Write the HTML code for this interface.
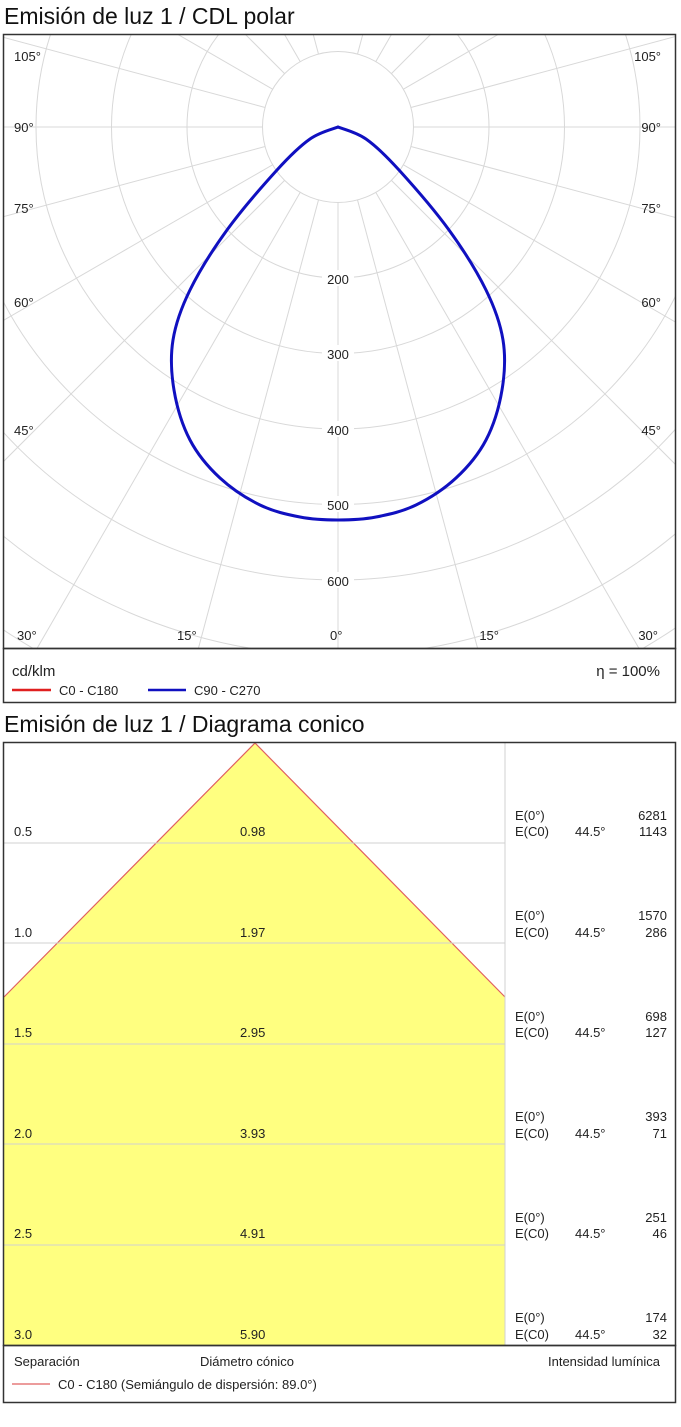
<!DOCTYPE html>
<html><head><meta charset="utf-8"><style>
body{margin:0;background:#fff;width:681px;height:1422px;overflow:hidden;font-family:"Liberation Sans",sans-serif;}
</style></head><body>
<svg width="681" height="1422" xmlns="http://www.w3.org/2000/svg" font-family="Liberation Sans, sans-serif">
<text x="4" y="24" font-size="23" fill="#111">Emisión de luz 1 / CDL polar</text>
<defs><clipPath id="c"><rect x="4" y="35" width="671" height="613"/></clipPath>
<path id="half" fill="none" stroke="#1010c0" stroke-width="3" stroke-linecap="round" d="M338,127 C333.3,129 320.2,131.8 310,139 C299.8,146.2 290.8,154.8 277,170 C263.2,185.2 241.5,210 227,230 C212.5,250 199,271.7 190,290 C181,308.3 175.7,323.3 173,340 C170.3,356.7 171.2,373.3 174,390 C176.8,406.7 182.3,425.3 190,440 C197.7,454.7 208.3,467.2 220,478 C231.7,488.8 246.7,498.5 260,505 C273.3,511.5 287,514.5 300,517 C313,519.5 325.3,520 338,520"/>
</defs>
<g clip-path="url(#c)" stroke="#d8d8d8" stroke-width="1" fill="none">
<circle cx="338" cy="127" r="75.5"/><circle cx="338" cy="127" r="151"/><circle cx="338" cy="127" r="226.5"/>
<circle cx="338" cy="127" r="302"/><circle cx="338" cy="127" r="377.5"/><circle cx="338" cy="127" r="453"/>
<circle cx="338" cy="127" r="528.5"/><circle cx="338" cy="127" r="604"/>
</g>
<g clip-path="url(#c)" stroke="#d8d8d8" stroke-width="1">
<line x1="338" y1="202.5" x2="338" y2="900"/>
<line x1="357.5" y1="199.9" x2="545" y2="900"/><line x1="318.5" y1="199.9" x2="131" y2="900"/>
<line x1="375.8" y1="192.4" x2="738" y2="820"/><line x1="300.2" y1="192.4" x2="-62" y2="820"/>
<line x1="391.4" y1="180.4" x2="900" y2="689"/><line x1="284.6" y1="180.4" x2="-224" y2="689"/>
<line x1="403.4" y1="164.8" x2="1030" y2="527"/><line x1="272.6" y1="164.8" x2="-354" y2="527"/>
<line x1="410.9" y1="146.5" x2="1110" y2="334"/><line x1="265.1" y1="146.5" x2="-434" y2="334"/>
<line x1="413.5" y1="127" x2="1140" y2="127"/><line x1="262.5" y1="127" x2="-464" y2="127"/>
<line x1="410.9" y1="107.5" x2="1110" y2="-80"/><line x1="265.1" y1="107.5" x2="-434" y2="-80"/>
<line x1="403.4" y1="89.2" x2="1030" y2="-273"/><line x1="272.6" y1="89.2" x2="-354" y2="-273"/>
<line x1="391.4" y1="73.6" x2="900" y2="-435"/><line x1="284.6" y1="73.6" x2="-224" y2="-435"/>
<line x1="375.8" y1="61.6" x2="738" y2="-566"/><line x1="300.2" y1="61.6" x2="-62" y2="-566"/>
<line x1="357.5" y1="54.1" x2="545" y2="-646"/><line x1="318.5" y1="54.1" x2="131" y2="-646"/>
</g>
<g font-size="13" fill="#222">
<g fill="#fff"><rect x="322" y="270" width="32" height="16"/><rect x="322" y="345" width="32" height="16"/><rect x="322" y="421" width="32" height="16"/><rect x="322" y="496" width="32" height="16"/><rect x="322" y="572" width="32" height="16"/></g>
<text x="338" y="284" text-anchor="middle">200</text><text x="338" y="359" text-anchor="middle">300</text>
<text x="338" y="435" text-anchor="middle">400</text><text x="338" y="510" text-anchor="middle">500</text>
<text x="338" y="586" text-anchor="middle">600</text>
<text x="14" y="61">105°</text><text x="14" y="132">90°</text><text x="14" y="213">75°</text><text x="14" y="307">60°</text><text x="14" y="435">45°</text><text x="17" y="640">30°</text><text x="177" y="640">15°</text><text x="330" y="640">0°</text>
<text x="661" y="61" text-anchor="end">105°</text><text x="661" y="132" text-anchor="end">90°</text><text x="661" y="213" text-anchor="end">75°</text><text x="661" y="307" text-anchor="end">60°</text><text x="661" y="435" text-anchor="end">45°</text><text x="658" y="640" text-anchor="end">30°</text><text x="499" y="640" text-anchor="end">15°</text>
</g>
<use href="#half"/>
<use href="#half" transform="translate(676,0) scale(-1,1)"/>
<rect x="3.5" y="34.5" width="672" height="614" fill="none" stroke="#333" stroke-width="1.5"/>
<rect x="3.5" y="648.5" width="672" height="54" fill="none" stroke="#333" stroke-width="1.5"/>
<text x="12" y="676" font-size="15" fill="#222">cd/klm</text>
<text x="660" y="676" font-size="15" fill="#222" text-anchor="end">η = 100%</text>
<line x1="12" y1="690" x2="51" y2="690" stroke="#e02020" stroke-width="2.5"/>
<text x="59" y="695" font-size="13" fill="#222">C0 - C180</text>
<line x1="148" y1="690" x2="186" y2="690" stroke="#1010c0" stroke-width="2.5"/>
<text x="194" y="695" font-size="13" fill="#222">C90 - C270</text>

<text x="4" y="732" font-size="23" fill="#111">Emisión de luz 1 / Diagrama conico</text>
<polygon points="4,997 255,743 505,997 505,1345 4,1345" fill="#ffff80"/>
<polyline points="4,997 255,743 505,997" fill="none" stroke="#e06060" stroke-width="1.2"/>
<g stroke="#d0d0d0" stroke-width="1"><line x1="4" y1="843" x2="505" y2="843"/><line x1="4" y1="943" x2="505" y2="943"/><line x1="4" y1="1044" x2="505" y2="1044"/><line x1="4" y1="1144" x2="505" y2="1144"/><line x1="4" y1="1245" x2="505" y2="1245"/><line x1="505" y1="743" x2="505" y2="1345"/></g>
<g font-size="13" fill="#222">
<text x="14" y="836">0.5</text><text x="240" y="836">0.98</text>
<text x="14" y="937">1.0</text><text x="240" y="937">1.97</text>
<text x="14" y="1037">1.5</text><text x="240" y="1037">2.95</text>
<text x="14" y="1138">2.0</text><text x="240" y="1138">3.93</text>
<text x="14" y="1238">2.5</text><text x="240" y="1238">4.91</text>
<text x="14" y="1339">3.0</text><text x="240" y="1339">5.90</text>

<text x="515" y="820">E(0°)</text><text x="667" y="820" text-anchor="end">6281</text>
<text x="515" y="836">E(C0)</text><text x="575" y="836">44.5°</text><text x="667" y="836" text-anchor="end">1143</text>
<text x="515" y="920">E(0°)</text><text x="667" y="920" text-anchor="end">1570</text>
<text x="515" y="937">E(C0)</text><text x="575" y="937">44.5°</text><text x="667" y="937" text-anchor="end">286</text>
<text x="515" y="1021">E(0°)</text><text x="667" y="1021" text-anchor="end">698</text>
<text x="515" y="1037">E(C0)</text><text x="575" y="1037">44.5°</text><text x="667" y="1037" text-anchor="end">127</text>
<text x="515" y="1121">E(0°)</text><text x="667" y="1121" text-anchor="end">393</text>
<text x="515" y="1138">E(C0)</text><text x="575" y="1138">44.5°</text><text x="667" y="1138" text-anchor="end">71</text>
<text x="515" y="1222">E(0°)</text><text x="667" y="1222" text-anchor="end">251</text>
<text x="515" y="1238">E(C0)</text><text x="575" y="1238">44.5°</text><text x="667" y="1238" text-anchor="end">46</text>
<text x="515" y="1322">E(0°)</text><text x="667" y="1322" text-anchor="end">174</text>
<text x="515" y="1339">E(C0)</text><text x="575" y="1339">44.5°</text><text x="667" y="1339" text-anchor="end">32</text>
</g>
<rect x="3.5" y="742.5" width="672" height="603" fill="none" stroke="#333" stroke-width="1.5"/>
<rect x="3.5" y="1345.5" width="672" height="57" fill="none" stroke="#333" stroke-width="1.5"/>
<g font-size="13" fill="#222">
<text x="14" y="1366">Separación</text><text x="200" y="1366">Diámetro cónico</text><text x="660" y="1366" text-anchor="end">Intensidad lumínica</text>
<text x="58" y="1389">C0 - C180 (Semiángulo de dispersión: 89.0°)</text></g>
<line x1="12" y1="1384" x2="50" y2="1384" stroke="#e06060" stroke-width="1.2"/>
</svg>
</body></html>
